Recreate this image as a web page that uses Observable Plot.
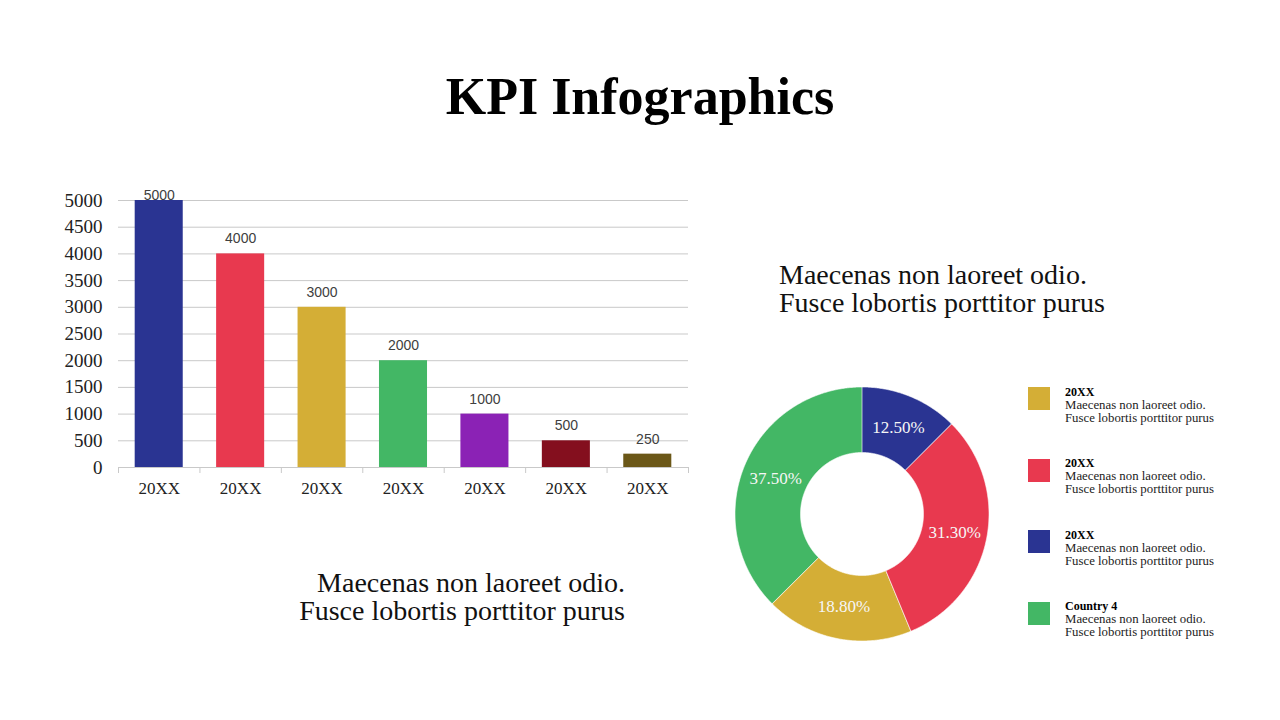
<!DOCTYPE html>
<html>
<head>
<meta charset="utf-8">
<script src="https://cdn.jsdelivr.net/npm/d3@7"></script>
<script src="https://cdn.jsdelivr.net/npm/@observablehq/plot@0.6"></script>
<style>
  html, body { margin: 0; padding: 0; background: #fff; }
  #page { position: relative; width: 1280px; height: 720px; overflow: hidden; font-family: "Liberation Serif", serif; color: #000; }
  .abs { position: absolute; }
  #title { left: 0; width: 1280px; top: 71px; text-align: center; font-weight: bold; font-size: 52px; line-height: 52px; white-space: nowrap; }
  .caption { font-size: 28px; line-height: 28px; color: #111; white-space: nowrap; }
  #capRight { left: 779px; top: 261px; text-align: left; }
  #capLeft { right: 655px; top: 569px; text-align: right; }
  #barChart { left: 40px; top: 180px; }
  #donut { left: 732px; top: 384px; }
  .legItem { position: absolute; left: 1028px; width: 230px; height: 50px; }
  .legSwatch { position: absolute; left: 0; top: 0; width: 22px; height: 23px; }
  .legText { position: absolute; left: 37px; top: -1.5px; font-size: 12.8px; line-height: 13px; color: #222; white-space: nowrap; }
  .legText b { color: #000; font-size: 12px; }
</style>
</head>
<body>
<div id="page">
  <div id="title" class="abs"></div>
  <div id="barChart" class="abs"></div>
  <div id="capRight" class="abs caption"></div>
  <div id="capLeft" class="abs caption"></div>
  <div id="donut" class="abs"></div>
  <div id="legend"></div>
</div>
<script>
// ---------- data ----------
const titleText = "KPI Infographics";
const captionLines = ["Maecenas non laoreet odio.", "Fusce lobortis porttitor purus"];

const barCategories = ["20XX", "20XX", "20XX", "20XX", "20XX", "20XX", "20XX"];
const barValues = [5000, 4000, 3000, 2000, 1000, 500, 250];
const barColors = ["#2a3492", "#e8394f", "#d4ae36", "#43b765", "#8b22b5", "#840f1e", "#6b5718"];
const yTicks = [0, 500, 1000, 1500, 2000, 2500, 3000, 3500, 4000, 4500, 5000];

const donutValues = [12.5, 31.3, 18.8, 37.5];
const donutColors = ["#2a3492", "#e8394f", "#d4ae36", "#43b765"];

const legendTitles = ["20XX", "20XX", "20XX", "Country 4"];
const legendColors = ["#d4ae36", "#e8394f", "#2a3492", "#43b765"];
const legendLines = ["Maecenas non laoreet odio.", "Fusce lobortis porttitor purus"];

// ---------- text ----------
document.getElementById("title").textContent = titleText;
for (const id of ["capRight", "capLeft"]) {
  const el = document.getElementById(id);
  captionLines.forEach(t => { const d = document.createElement("div"); d.textContent = t; el.appendChild(d); });
}

// ---------- bar chart ----------
const n = barValues.length;
const bars = barValues.map((v, i) => ({i, value: v}));
const maxV = d3.max(barValues);
const plotW = 660, mL = 78, mR = 12;
const step = (plotW - mL - mR) / n;
const tickColor = "#c9c9c9";

const barPlot = Plot.plot({
  width: plotW, height: 330,
  marginLeft: mL, marginRight: mR, marginTop: 20, marginBottom: 43,
  style: {fontFamily: "'Liberation Serif', serif", background: "transparent", overflow: "visible"},
  x: {type: "band", domain: d3.range(n), padding: 0, round: false, label: null},
  y: {domain: [0, 5000], label: null},
  color: {type: "ordinal", domain: d3.range(n), range: barColors},
  marks: [
    Plot.ruleY(yTicks, {stroke: tickColor, strokeWidth: 1}),
    Plot.axisY(yTicks, {tickSize: 0, tickPadding: 16, fontSize: 19, color: "#222", label: null, tickFormat: d => String(d)}),
    Plot.axisX({tickSize: 0, tickPadding: 14, fontSize: 17, color: "#222", label: null, tickFormat: i => barCategories[i]}),
    Plot.ruleX(d3.range(n), {x: d => d, y1: 0, y2: 0, dx: -step / 2, insetBottom: -6, stroke: tickColor}),
    Plot.ruleX([n - 1], {x: d => d, y1: 0, y2: 0, dx: step / 2, insetBottom: -6, stroke: tickColor}),
    Plot.barY(bars, {x: "i", y: "value", fill: "i", insetLeft: step * 0.205, insetRight: step * 0.205}),
    Plot.text(bars.filter(d => d.value < maxV), {x: "i", y: "value", text: d => String(d.value), dy: -15,
      fontSize: 14, fontFamily: "'Liberation Sans', sans-serif", fill: "#404040"}),
    Plot.text(bars.filter(d => d.value === maxV), {x: "i", y: "value", text: d => String(d.value), dy: -5,
      fontSize: 14, fontFamily: "'Liberation Sans', sans-serif", fill: "#404040"})
  ]
});
document.getElementById("barChart").appendChild(barPlot);

// ---------- donut ----------
const half = 130, R = 127, r0 = 61.5, rLabel = 94;
const total = d3.sum(donutValues);
const arcPts = [], labelPts = [];
let acc = 0;
donutValues.forEach((v, i) => {
  const a0 = acc / total * 2 * Math.PI; acc += v;
  const a1 = acc / total * 2 * Math.PI;
  const k = Math.max(2, Math.ceil((a1 - a0) / (Math.PI / 360)));
  for (let j = 0; j <= k; j++) {
    const a = a0 + (a1 - a0) * j / k;
    arcPts.push({slice: i, xo: R * Math.sin(a), yo: R * Math.cos(a), xi: r0 * Math.sin(a), yi: r0 * Math.cos(a)});
  }
  const am = (a0 + a1) / 2;
  labelPts.push({slice: i, x: rLabel * Math.sin(am), y: rLabel * Math.cos(am), text: d3.format(".2f")(v) + "%"});
});

const donutPlot = Plot.plot({
  width: 2 * half, height: 2 * half, margin: 0,
  style: {background: "transparent", overflow: "visible"},
  x: {domain: [-half, half], axis: null},
  y: {domain: [-half, half], axis: null},
  color: {type: "ordinal", domain: d3.range(donutValues.length), range: donutColors},
  marks: [
    Plot.area(arcPts, {x1: "xo", y1: "yo", x2: "xi", y2: "yi", z: "slice", fill: "slice", stroke: "#ffffff", strokeWidth: 0.6, curve: "linear"}),
    Plot.text(labelPts, {x: "x", y: "y", text: "text", fill: "#f6f6f6", fontSize: 17, fontFamily: "'Liberation Serif', serif"})
  ]
});
document.getElementById("donut").appendChild(donutPlot);

// ---------- legend ----------
const legend = document.getElementById("legend");
legendTitles.forEach((t, i) => {
  const item = document.createElement("div");
  item.className = "legItem";
  item.style.top = (387 + i * 71.5) + "px";
  const sw = document.createElement("div");
  sw.className = "legSwatch";
  sw.style.background = legendColors[i];
  const tx = document.createElement("div");
  tx.className = "legText";
  const b = document.createElement("b"); b.textContent = t;
  tx.appendChild(b);
  legendLines.forEach(l => { const d = document.createElement("div"); d.textContent = l; tx.appendChild(d); });
  item.appendChild(sw); item.appendChild(tx);
  legend.appendChild(item);
});
</script>
</body>
</html>
